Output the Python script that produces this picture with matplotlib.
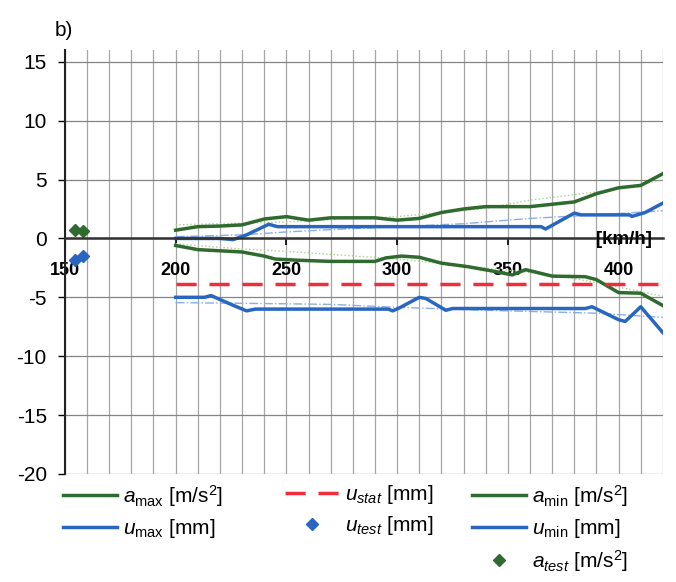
import numpy as np
import matplotlib
matplotlib.use('Agg')
import matplotlib.pyplot as plt

plt.rcParams['font.family'] = 'Liberation Sans'
plt.rcParams['mathtext.fontset'] = 'custom'
plt.rcParams['mathtext.rm'] = 'Liberation Sans'
plt.rcParams['mathtext.it'] = 'Liberation Sans:italic'
plt.rcParams['mathtext.bf'] = 'Liberation Sans:bold'
plt.rcParams['axes.unicode_minus'] = False

# speed [km/h] and values
a_max_v = [200, 210, 220, 230, 236, 240, 250, 260, 270, 280, 290, 300, 310, 320, 330, 340, 350, 360, 370, 380, 390, 400, 410, 420]
a_max = [0.7, 1.0, 1.05, 1.15, 1.45, 1.65, 1.85, 1.55, 1.75, 1.75, 1.75, 1.55, 1.7, 2.2, 2.5, 2.7, 2.7, 2.7, 2.9, 3.1, 3.8, 4.3, 4.5, 5.5]

u_max_v = [200, 210, 220, 226, 232, 242, 246, 300, 365, 367, 380, 383, 405, 406, 412, 420]
u_max = [0.0, 0.0, 0.0, -0.1, 0.3, 1.2, 1.0, 1.0, 1.0, 0.8, 2.15, 2.0, 2.0, 1.87, 2.2, 3.0]

a_min_v = [200, 210, 220, 230, 240, 245, 255, 270, 290, 295, 302, 310, 320, 332, 344, 352, 358, 370, 385, 390, 400, 410, 420]
a_min = [-0.6, -0.95, -1.05, -1.15, -1.5, -1.75, -1.85, -1.95, -1.95, -1.65, -1.5, -1.6, -2.1, -2.4, -2.8, -3.1, -2.65, -3.2, -3.25, -3.5, -4.6, -4.65, -5.7]

u_min_v = [200, 213, 216, 225, 232, 236, 296, 298, 301, 310, 313, 322, 325, 385, 388, 400, 403, 410, 420]
u_min = [-5.0, -5.0, -4.85, -5.6, -6.15, -6.0, -6.0, -6.15, -5.9, -5.0, -5.1, -6.1, -5.95, -5.95, -5.8, -6.9, -7.05, -5.8, -8.0]

u_stat_v = [200, 420]
u_stat = [-3.85, -3.85]

# thin trend lines
a_max_fit_v = [200, 250, 270, 300, 340, 360, 390, 420]
a_max_fit = [1.15, 1.4, 1.6, 1.85, 2.55, 3.25, 3.95, 4.95]
u_max_fit_v = [200, 230, 250, 270, 300, 330, 360, 390, 420]
u_max_fit = [0.15, 0.3, 0.55, 0.75, 1.0, 1.25, 1.7, 2.0, 2.35]
a_min_fit_v = [200, 230, 250, 270, 300, 340, 370, 390, 420]
a_min_fit = [-0.45, -0.9, -1.1, -1.35, -1.75, -2.5, -3.1, -3.75, -4.9]
u_min_fit_v = [200, 250, 270, 300, 340, 360, 390, 420]
u_min_fit = [-5.45, -5.55, -5.6, -5.85, -6.1, -6.2, -6.35, -6.7]

# test measurements
test_v = [154.5, 158]
a_test = [0.75, 0.65]
u_test = [-1.8, -1.5]

green = '#2f6a2f'
blue = '#2966c0'
red = '#ee2e3b'
lgreen = '#a9d18e'
lblue = '#8aaee6'

fig = plt.figure(figsize=(6.76, 5.82), dpi=100)
ax = fig.add_axes([0.096, 0.1856, 0.8846, 0.7285])

ax.plot(a_max_fit_v, a_max_fit, color=lgreen, lw=1, linestyle=':')
ax.plot(a_min_fit_v, a_min_fit, color=lgreen, lw=1, linestyle=':')
ax.plot(u_max_fit_v, u_max_fit, color=lblue, lw=1, linestyle='-.')
ax.plot(u_min_fit_v, u_min_fit, color=lblue, lw=1, linestyle='-.')

l_amax, = ax.plot(a_max_v, a_max, color=green, lw=2.5, label=r'$a_{\mathrm{max}}$ [m/s$^2$]')
l_umax, = ax.plot(u_max_v, u_max, color=blue, lw=2.5, label=r'$u_{\mathrm{max}}$ [mm]')
l_amin, = ax.plot(a_min_v, a_min, color=green, lw=2.5, label=r'$a_{\mathrm{min}}$ [m/s$^2$]')
l_umin, = ax.plot(u_min_v, u_min, color=blue, lw=2.5, label=r'$u_{\mathrm{min}}$ [mm]')
l_ustat, = ax.plot(u_stat_v, u_stat, color=red, lw=2.5, linestyle=(0, (5.8, 3.7)), label=r'$u_{stat}$ [mm]')
l_utest, = ax.plot(test_v, u_test, color=blue, marker='D', ms=6, linestyle='none', label=r'$u_{test}$ [mm]')
l_atest, = ax.plot(test_v, a_test, color=green, marker='D', ms=6, linestyle='none', label=r'$a_{test}$ [m/s$^2$]')

ax.set_xlim(150, 420)
ax.set_ylim(-20, 16)

ax.set_yticks(np.arange(-20, 16, 5))
ax.set_xticks([150, 200, 250, 300, 350, 400])
ax.set_xticks(np.arange(150, 421, 10), minor=True)
ax.grid(True, axis='x', which='both', color='#a6a6a6', lw=0.9)
ax.grid(True, axis='y', which='major', color='#858585', lw=0.9)
ax.set_axisbelow(True)

ax.spines['top'].set_visible(False)
ax.spines['right'].set_visible(False)
ax.spines['left'].set_color('#222222')
ax.spines['left'].set_linewidth(1.5)
ax.spines['bottom'].set_position(('data', 0))
ax.spines['bottom'].set_color('#333333')
ax.spines['bottom'].set_linewidth(1.8)

ax.tick_params(axis='y', direction='out', length=5, width=1, labelsize=15, pad=8)
ax.tick_params(axis='x', which='major', direction='out', length=5, width=1.2, labelsize=13, pad=12)
ax.tick_params(axis='x', which='minor', length=0)
for lbl in ax.get_xticklabels():
    lbl.set_fontweight('bold')

ax.text(415, -0.1, '[km/h]', ha='right', va='center', fontsize=13.5, fontweight='bold')
fig.text(0.081, 0.948, 'b)', ha='left', va='center', fontsize=15)

leg_kw = dict(loc='upper left', frameon=False, fontsize=15, borderpad=0, borderaxespad=0,
              handlelength=2.6, handletextpad=0.3, labelspacing=0.38)
fig.legend(handles=[l_amax, l_umax], bbox_to_anchor=(0.093, 0.17), **leg_kw)
fig.legend(handles=[l_ustat, l_utest], bbox_to_anchor=(0.4216, 0.17), **leg_kw)
fig.legend(handles=[l_amin, l_umin, l_atest], bbox_to_anchor=(0.698, 0.17), **leg_kw)

plt.savefig('out.png', dpi=100)
